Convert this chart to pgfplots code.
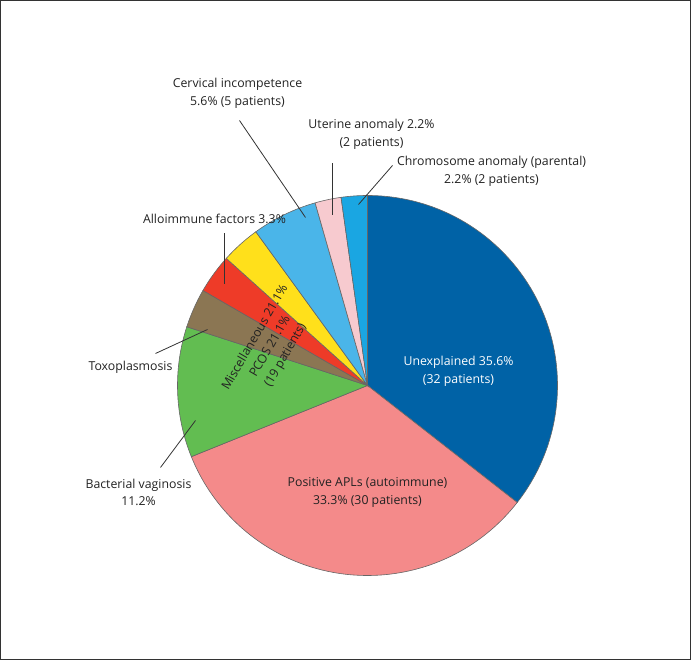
\documentclass[border=0pt]{standalone}
\usepackage{pgfplots}
\pgfplotsset{compat=1.18}
\usepackage{fontspec}
\setmainfont{Open Sans}
\definecolor{dblue}{HTML}{0062A6}
\definecolor{salmon}{HTML}{F48A8A}
\definecolor{sgreen}{HTML}{62BD51}
\definecolor{sbrown}{HTML}{8B7653}
\definecolor{sred}{HTML}{EE3B28}
\definecolor{syellow}{HTML}{FFE01B}
\definecolor{lblue}{HTML}{4AB5E9}
\definecolor{lpink}{HTML}{F7CACF}
\definecolor{scyan}{HTML}{1AA6E2}
\definecolor{txt}{HTML}{222222}
\tikzset{lbl/.style={font=\fontsize{12.3}{17.5}\selectfont, text=txt, align=center, inner sep=0pt}}
\begin{document}
\begin{tikzpicture}
\begin{axis}[
  scale only axis, width=690pt, height=659pt,
  xmin=0, xmax=690, ymin=0, ymax=659,
  xtick=\empty, ytick=\empty,
  axis line style={draw=black!80, line width=1pt},
  clip=false,
]
% patient counts per slice (90 patients), clockwise from 12 o'clock
\pgfplotsextra{
  \gdef\cum{0}
  \foreach \v/\c in {32/dblue,30/salmon,10/sgreen,3/sbrown,3/sred,3/syellow,5/lblue,2/lpink,2/scyan}{
    \pgfmathsetmacro\aa{90-\cum*4}
    \pgfmathsetmacro\bb{90-(\cum+\v)*4}
    \filldraw[fill=\c, draw=black!60, line width=0.6pt]
      (axis cs:367,274) -- ++(\aa:190pt) arc[start angle=\aa, end angle=\bb, radius=190pt] -- cycle;
    \pgfmathsetmacro\nc{\cum+\v}
    \xdef\cum{\nc}
  }
}
% leader lines
\draw[black!80, line width=0.8pt] (axis cs:239,539) -- (axis cs:305,442);
\draw[black!80, line width=0.8pt] (axis cs:332,496) -- (axis cs:332,444);
\draw[black!80, line width=0.8pt] (axis cs:392,494) -- (axis cs:358,455);
\draw[black!80, line width=0.8pt] (axis cs:224,426) -- (axis cs:224,375);
\draw[black!80, line width=0.8pt] (axis cs:155,306) -- (axis cs:207,330);
\draw[black!80, line width=0.8pt] (axis cs:160,192) -- (axis cs:195,239);
% labels
\node[lbl] at (axis cs:237,566) {Cervical incompetence\\5.6\% (5 patients)};
\node[lbl] at (axis cs:371,525) {Uterine anomaly 2.2\%\\(2 patients)};
\node[lbl] at (axis cs:491,488) {Chromosome anomaly (parental)\\2.2\% (2 patients)};
\node[lbl] at (axis cs:214,441) {Alloimmune factors 3.3\%};
\node[lbl] at (axis cs:130,292) {Toxoplasmosis};
\node[lbl] at (axis cs:138,167) {Bacterial vaginosis\\11.2\%};
\node[lbl, text=white] at (axis cs:458,288) {Unexplained 35.6\%\\(32 patients)};
\node[lbl] at (axis cs:367,167) {Positive APLs (autoimmune)\\33.3\% (30 patients)};
\node[lbl, rotate=60] at (axis cs:270,313) {Miscellaneous 21.1\%\\PCOS 21.1\%\\(19 patients)};
\end{axis}
\end{tikzpicture}
\end{document}
